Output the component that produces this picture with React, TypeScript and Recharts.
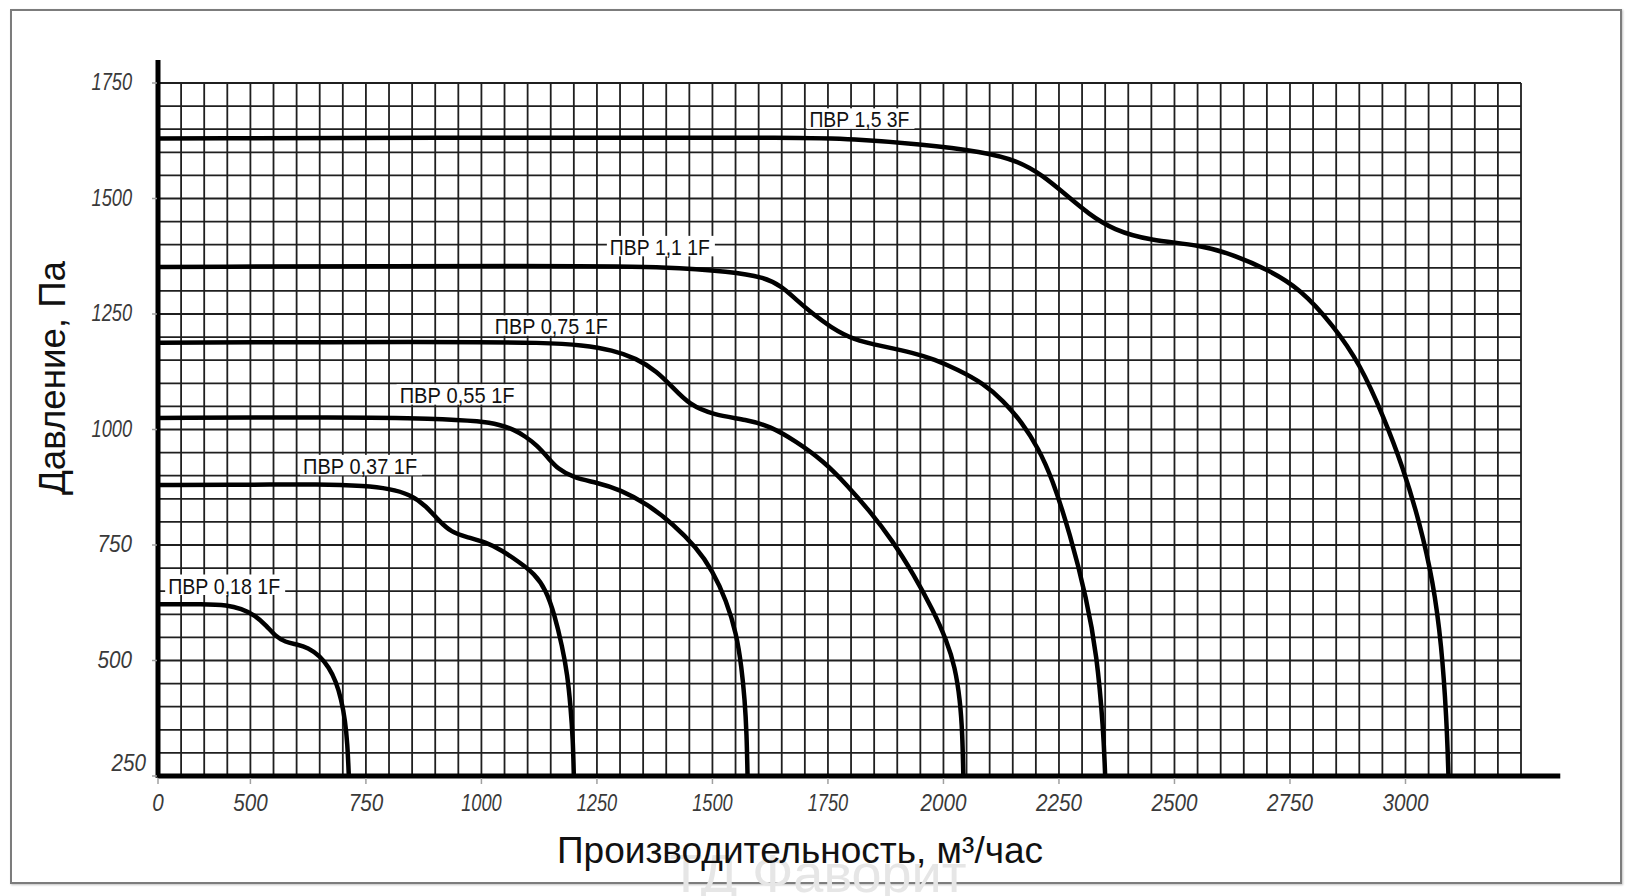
import React from 'react';
import { LineChart, Line, XAxis, YAxis, CartesianGrid, ReferenceLine, ReferenceDot } from 'recharts';

// Напорные характеристики вентиляторов ПВР: производительность q (м³/час) -> давление p (Па)
const pvr018 = [
  { q: 300, p: 622 }, { q: 400, p: 622 }, { q: 450, p: 620 }, { q: 480, p: 612 }, { q: 510, p: 598 },
  { q: 535, p: 575 }, { q: 555, p: 552 }, { q: 575, p: 540 }, { q: 600, p: 535 }, { q: 625, p: 528 },
  { q: 650, p: 510 }, { q: 670, p: 485 }, { q: 685, p: 455 }, { q: 697, p: 415 }, { q: 705, p: 370 },
  { q: 710, p: 320 }, { q: 713, p: 250 },
];

const pvr037 = [
  { q: 300, p: 880 }, { q: 500, p: 880 }, { q: 650, p: 882 }, { q: 750, p: 878 }, { q: 800, p: 872 },
  { q: 845, p: 860 }, { q: 880, p: 835 }, { q: 910, p: 800 }, { q: 935, p: 778 }, { q: 965, p: 768 },
  { q: 1010, p: 756 }, { q: 1045, p: 738 }, { q: 1080, p: 714 }, { q: 1115, p: 688 }, { q: 1140, p: 652 },
  { q: 1158, p: 600 }, { q: 1175, p: 530 }, { q: 1186, p: 470 }, { q: 1193, p: 400 }, { q: 1198, p: 330 },
  { q: 1200, p: 250 },
];

const pvr055 = [
  { q: 300, p: 1025 }, { q: 700, p: 1027 }, { q: 900, p: 1024 }, { q: 1000, p: 1018 }, { q: 1040, p: 1010 },
  { q: 1070, p: 1000 }, { q: 1095, p: 985 }, { q: 1120, p: 966 }, { q: 1145, p: 938 }, { q: 1165, p: 915 },
  { q: 1200, p: 895 }, { q: 1250, p: 885 }, { q: 1300, p: 870 }, { q: 1360, p: 838 }, { q: 1415, p: 795 },
  { q: 1465, p: 745 }, { q: 1500, p: 695 }, { q: 1530, p: 630 }, { q: 1552, p: 558 }, { q: 1563, p: 486 },
  { q: 1570, p: 414 }, { q: 1574, p: 342 }, { q: 1576, p: 250 },
];

const pvr075 = [
  { q: 300, p: 1188 }, { q: 900, p: 1190 }, { q: 1150, p: 1188 }, { q: 1215, p: 1183 }, { q: 1285, p: 1172 },
  { q: 1335, p: 1154 }, { q: 1380, p: 1126 }, { q: 1415, p: 1090 }, { q: 1450, p: 1054 }, { q: 1500, p: 1032 },
  { q: 1575, p: 1021 }, { q: 1625, p: 1007 }, { q: 1680, p: 975 }, { q: 1740, p: 932 }, { q: 1790, p: 881 },
  { q: 1840, p: 824 }, { q: 1890, p: 759 }, { q: 1935, p: 687 }, { q: 1978, p: 608 }, { q: 2007, p: 543 },
  { q: 2025, p: 486 }, { q: 2036, p: 414 }, { q: 2041, p: 342 }, { q: 2043, p: 250 },
];

const pvr11 = [
  { q: 300, p: 1352 }, { q: 1200, p: 1355 }, { q: 1400, p: 1352 }, { q: 1540, p: 1342 }, { q: 1610, p: 1330 },
  { q: 1650, p: 1310 }, { q: 1680, p: 1282 }, { q: 1715, p: 1252 }, { q: 1755, p: 1222 }, { q: 1805, p: 1194 },
  { q: 1870, p: 1180 }, { q: 1935, p: 1166 }, { q: 1980, p: 1152 }, { q: 2030, p: 1130 }, { q: 2086, p: 1100 },
  { q: 2130, p: 1062 }, { q: 2170, p: 1015 }, { q: 2205, p: 960 }, { q: 2235, p: 895 }, { q: 2274, p: 774 },
  { q: 2310, p: 633 }, { q: 2332, p: 512 }, { q: 2346, p: 353 }, { q: 2350, p: 250 },
];

const pvr15 = [
  { q: 300, p: 1630 }, { q: 1200, p: 1632 }, { q: 1700, p: 1632 }, { q: 1800, p: 1629 }, { q: 1950, p: 1618 },
  { q: 2086, p: 1601 }, { q: 2160, p: 1582 }, { q: 2215, p: 1550 }, { q: 2265, p: 1508 }, { q: 2315, p: 1466 },
  { q: 2368, p: 1432 }, { q: 2447, p: 1409 }, { q: 2555, p: 1400 }, { q: 2628, p: 1378 }, { q: 2700, p: 1347 },
  { q: 2772, p: 1305 }, { q: 2844, p: 1225 }, { q: 2902, p: 1141 }, { q: 2952, p: 1029 }, { q: 2995, p: 917 },
  { q: 3031, p: 797 }, { q: 3060, p: 670 }, { q: 3078, p: 534 }, { q: 3089, p: 374 }, { q: 3093, p: 250 },
];

const series = [pvr018, pvr037, pvr055, pvr075, pvr11, pvr15];

// подписи кривых и точка привязки (левый край, базовая линия текста)
const labelNames = ['ПВР 1,5 3F', 'ПВР 1,1 1F', 'ПВР 0,75 1F', 'ПВР 0,55 1F', 'ПВР 0,37 1F', 'ПВР 0,18 1F'];
const labelQ = [1710, 1278, 1029, 823, 614, 322];
const labelP = [1654, 1378, 1206, 1057, 904, 645];

// подписи осей (шкала по расходу начинается с 300, но подписана как 0)
const xLabelTicks = [300, 500, 750, 1000, 1250, 1500, 1750, 2000, 2250, 2500, 2750, 3000];
const xLabelText = ['0', '500', '750', '1000', '1250', '1500', '1750', '2000', '2250', '2500', '2750', '3000'];
const yLabelTicks = [250, 500, 750, 1000, 1250, 1500, 1750];

const xGridTicks: number[] = [];
for (let q = 300; q <= 3250; q += 50) xGridTicks.push(q);
const yGridTicks: number[] = [];
for (let p = 250; p <= 1750; p += 50) yGridTicks.push(p);

const labelWidths = [100, 100, 113, 115, 114, 112];
const tickFont = "'Liberation Sans', Arial, sans-serif";
const digitWidth = (s: string) => s.split('').reduce((w, c) => w + (c === '1' ? 6 : 11.5), 0);

const XTick = (props: any) => {
  const { x, y, payload } = props;
  const i = xLabelTicks.indexOf(payload.value);
  if (i < 0) return <g />;
  const text = xLabelText[i];
  return (
    <g>
      <line x1={x} y1={y + 2} x2={x} y2={y + 8} stroke="#a0a0a0" strokeWidth={1.5} />
      <text x={x} y={y + 35} textAnchor="middle" fontSize={24} fontStyle="italic" fill="#3a3a3a"
        fontFamily={tickFont} textLength={digitWidth(text)} lengthAdjust="spacingAndGlyphs">{text}</text>
    </g>
  );
};

const YTick = (props: any) => {
  const { x, y, payload } = props;
  if (!yLabelTicks.includes(payload.value)) return <g />;
  const text = String(payload.value);
  const low = payload.value === 250;
  return (
    <g>
      <line x1={x - 6} y1={y} x2={x - 1} y2={y} stroke="#a0a0a0" strokeWidth={1.5} />
      <text x={low ? x - 12 : x - 26} y={low ? y - 5 : y + 7} textAnchor="end" fontSize={24} fontStyle="italic"
        fill="#3a3a3a" fontFamily={tickFont} textLength={digitWidth(text)} lengthAdjust="spacingAndGlyphs">{text}</text>
    </g>
  );
};

const CurveLabel = (props: any) => {
  const { cx, cy, text, w } = props;
  return (
    <g>
      <rect x={cx - 3} y={cy - 19} width={w + 8} height={20.5} fill="#fff" />
      <text x={cx} y={cy} fontSize={22} fill="#111" fontFamily="'Liberation Sans Narrow', 'Liberation Sans', Arial, sans-serif"
        textLength={w} lengthAdjust="spacingAndGlyphs">{text}</text>
    </g>
  );
};

const XTitle = () => (
  <g>
    <text x={818} y={892} textAnchor="middle" fontSize={54} fill="#e6e6e6" fontFamily="'Liberation Sans', Arial, sans-serif">ТД Фаворит</text>
    <text x={800} y={863} textAnchor="middle" fontSize={37} fill="#111" fontFamily="'Liberation Sans', Arial, sans-serif"
      textLength={486} lengthAdjust="spacingAndGlyphs">Производительность, м³/час</text>
  </g>
);

const YTitle = () => (
  <text x={65} y={378} transform="rotate(-90, 65, 378)" textAnchor="middle" fontSize={36} fill="#111"
    fontFamily="'Liberation Sans', Arial, sans-serif" textLength={234} lengthAdjust="spacingAndGlyphs">Давление, Па</text>
);

export default function App() {
  return (
    <div style={{ position: 'absolute', left: 0, top: 0, width: 1636, height: 896, background: '#fff', overflow: 'hidden' }}>
      <div style={{ position: 'absolute', left: 10, top: 9, width: 1612, height: 875, boxSizing: 'border-box',
        border: '2px solid #7c7c7c', boxShadow: '1px 1px 2px rgba(0,0,0,0.25)' }} />
      <div style={{ position: 'absolute', left: 0, top: 0 }}>
        <LineChart width={1636} height={896} margin={{ top: 83, right: 115, bottom: 80, left: 98 }}>
          <CartesianGrid stroke="#1f1f1f" strokeWidth={1.8} />
          <XAxis type="number" dataKey="q" domain={[300, 3250]} ticks={xGridTicks} interval={0} allowDataOverflow
            tick={<XTick />} tickLine={false} axisLine={false} tickSize={0} tickMargin={0} height={40}
            label={{ content: () => <XTitle /> }} />
          <YAxis type="number" dataKey="p" domain={[250, 1750]} ticks={yGridTicks} interval={0} allowDataOverflow
            tick={<YTick />} tickLine={false} axisLine={false} tickSize={0} tickMargin={0} width={60}
            label={{ content: () => <YTitle /> }} />
          {labelNames.map((name, i) => (
            <ReferenceDot key={name} x={labelQ[i]} y={labelP[i]} r={0} ifOverflow="visible"
              shape={(p: any) => <CurveLabel cx={p.cx} cy={p.cy} text={name} w={labelWidths[i]} />} />
          ))}
          {series.map((s, i) => (
            <Line key={i} data={s} dataKey="p" type="basis" stroke="#000" strokeWidth={4.5}
              dot={false} activeDot={false} isAnimationActive={false} />
          ))}
          <ReferenceLine segment={[{ x: 300, y: 250 }, { x: 3335, y: 250 }]} stroke="#000" strokeWidth={5} ifOverflow="visible" />
          <ReferenceLine segment={[{ x: 300, y: 246 }, { x: 300, y: 1800 }]} stroke="#000" strokeWidth={5} ifOverflow="visible" />
        </LineChart>
      </div>
    </div>
  );
}
